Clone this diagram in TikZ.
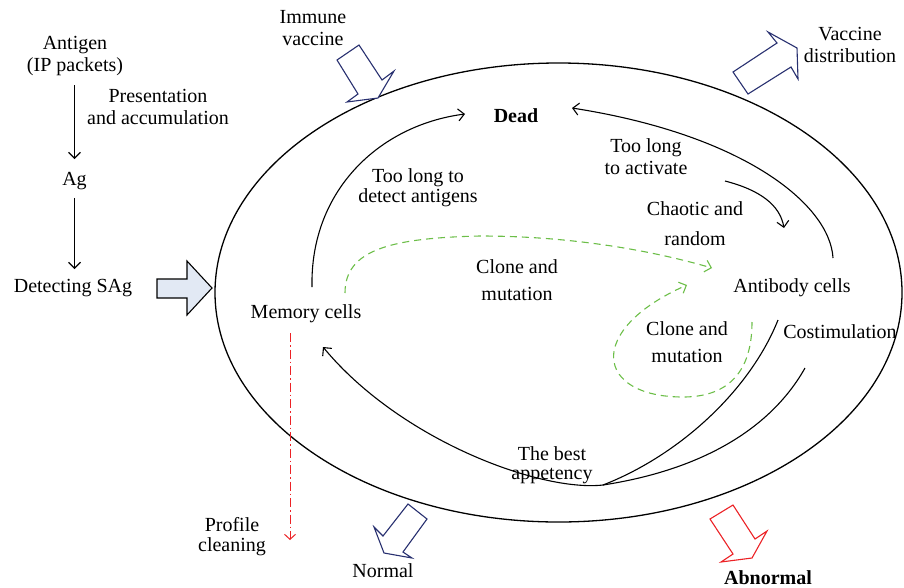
\documentclass[tikz,border=0pt]{standalone}
\usepackage{fontspec}
\setmainfont{Liberation Serif}
\usetikzlibrary{arrows.meta}
\definecolor{navy}{RGB}{40,48,112}
\definecolor{alarm}{RGB}{236,34,38}
\definecolor{leaf}{RGB}{108,190,72}
\definecolor{paleblue}{RGB}{226,233,244}

\begin{document}
\begin{tikzpicture}[x=1pt,y=-1pt,
  lbl/.style={font=\fontsize{20}{22}\selectfont, align=center, inner sep=0pt},
  wide/.style={font=\fontsize{20}{27}\selectfont},
  flow/.style={line width=1.1pt, -{Straight Barb[length=6pt,width=12pt]}},
  curve/.style={line width=1.1pt},
  clone/.style={leaf, line width=1.1pt, dash pattern=on 7pt off 5pt,
    -{Straight Barb[length=6pt,width=12pt]}},
  blockarrow/.style={line width=1.1pt, line join=miter, draw=#1, fill=white},
]
\useasboundingbox (0,0) rectangle (904,587);

% ---- labels ----
\node[lbl] (ant)  at (75,56.5) {Antigen\\(IP packets)};
\node[lbl] (pres) at (158,107) {Presentation\\and accumulation};
\node[lbl] (ag)   at (74.5,181) {Ag};
\node[lbl] (sag)  at (73,288) {Detecting SAg};
\node[lbl] (imm)  at (313,28.5) {Immune\\vaccine};
\node[lbl, font=\fontsize{20}{22}\selectfont\bfseries] (dead) at (516,116) {Dead};
\node[lbl] (dist) at (850,44.5) {Vaccine\\distribution};
\node[lbl] (act)  at (646,157) {Too long\\to activate};
\node[lbl, font=\fontsize{20}{20}\selectfont] (det) at (418,187.5) {Too long to\\detect antigens};
\node[lbl, font=\fontsize{20}{30}\selectfont] (chaos) at (695,224) {Chaotic and\\random};
\node[lbl, wide] (clmid) at (517,280) {Clone and\\mutation};
\node[lbl] (anti) at (792,287.5) {Antibody cells};
\node[lbl] (mem)  at (306,313.5) {Memory cells};
\node[lbl] (cost) at (840,332) {Costimulation};
\node[lbl, wide] (clright) at (687,342) {Clone and\\mutation};
\node[lbl, font=\fontsize{20}{19}\selectfont] (appe) at (552,465) {The best\\appetency};
\node[lbl, font=\fontsize{20}{20}\selectfont] (prof) at (232,537) {Profile\\cleaning};
\node[lbl] (norm) at (383,571) {Normal};
\node[lbl, font=\fontsize{20}{22}\selectfont\bfseries] (abn) at (768,577.5) {Abnormal};

% ---- antigen chain ----
\draw[flow, shorten <=9pt, shorten >=13pt] (ag.north |- ant.south) -- (ag.north);
\draw[flow, shorten <=8pt, shorten >=10pt] (ag.south) -- (ag.south |- sag.north);

% ---- the immune body ----
\draw[line width=1.3pt] (558.5,292.5) ellipse [x radius=343.5, y radius=229.5];

% end points of the inner paths
\coordinate (memUp)  at (312,287);
\coordinate (deadL)  at (465,114);
\coordinate (antUp)  at (833,258);
\coordinate (deadR)  at (572,108);
\coordinate (actA)   at (725,181);
\coordinate (actB)   at (784,228);
\coordinate (clA)    at (345,293);
\coordinate (clB)    at (712,268);
\coordinate (loopA)  at (752,322);
\coordinate (loopB)  at (687,285);
\coordinate (best)   at (603,485);
\coordinate (memLow) at (323,347);
\coordinate (costA)  at (778,320);
\coordinate (costB)  at (805,368);
\coordinate (pcA)    at (290,333);
\coordinate (pcB)    at (290,540);

\draw[flow] (memUp) .. controls (310,190) and (380,125) .. (deadL);
\draw[flow] (antUp) .. controls (830,205) and (745,135) .. (deadR);
\draw[flow] (actA) .. controls (760,190) and (780,205) .. (actB);
\draw[flow] (best) .. controls (540,492) and (400,440) .. (memLow);
\draw[curve] (best) .. controls (680,455) and (750,390) .. (costA);
\draw[curve] (best) .. controls (700,470) and (770,430) .. (costB);

% clone and mutation paths
\draw[clone] (clA) .. controls (345,250) and (390,238) .. (480,236)
  .. controls (570,236) and (650,250) .. (clB);
\draw[clone] (loopA) .. controls (752,380) and (720,397) .. (683,397)
  .. controls (595,397) and (585,330) .. (loopB);

% profile cleaning
\draw[alarm, line width=1pt, dash pattern=on 9pt off 3pt on 1.5pt off 3pt,
  -{Straight Barb[length=5pt,width=11pt]}] (pcA) -- (pcB);

% ---- block arrows ----
\draw[blockarrow=black, fill=paleblue] (157,279) -- (187,279) -- (187,261) -- (212,288)
  -- (187,315) -- (187,298) -- (157,298) -- cycle;
\draw[blockarrow=navy] (337,60) -- (359,45) -- (382,80) -- (394,71) -- (378,98)
  -- (347,102) -- (358,94) -- cycle;
\draw[blockarrow=navy] (733,72) -- (777,43) -- (768,32) -- (797,48) -- (798,79)
  -- (791,67) -- (748,94) -- cycle;
\draw[blockarrow=navy] (408,504) -- (427,519) -- (403,552) -- (412,558) -- (384,553)
  -- (374,527) -- (383,536) -- cycle;
\draw[blockarrow=alarm] (733,505) -- (710,519) -- (733,554) -- (721,562) -- (752,558)
  -- (767,531) -- (755,539) -- cycle;
\end{tikzpicture}
\end{document}
